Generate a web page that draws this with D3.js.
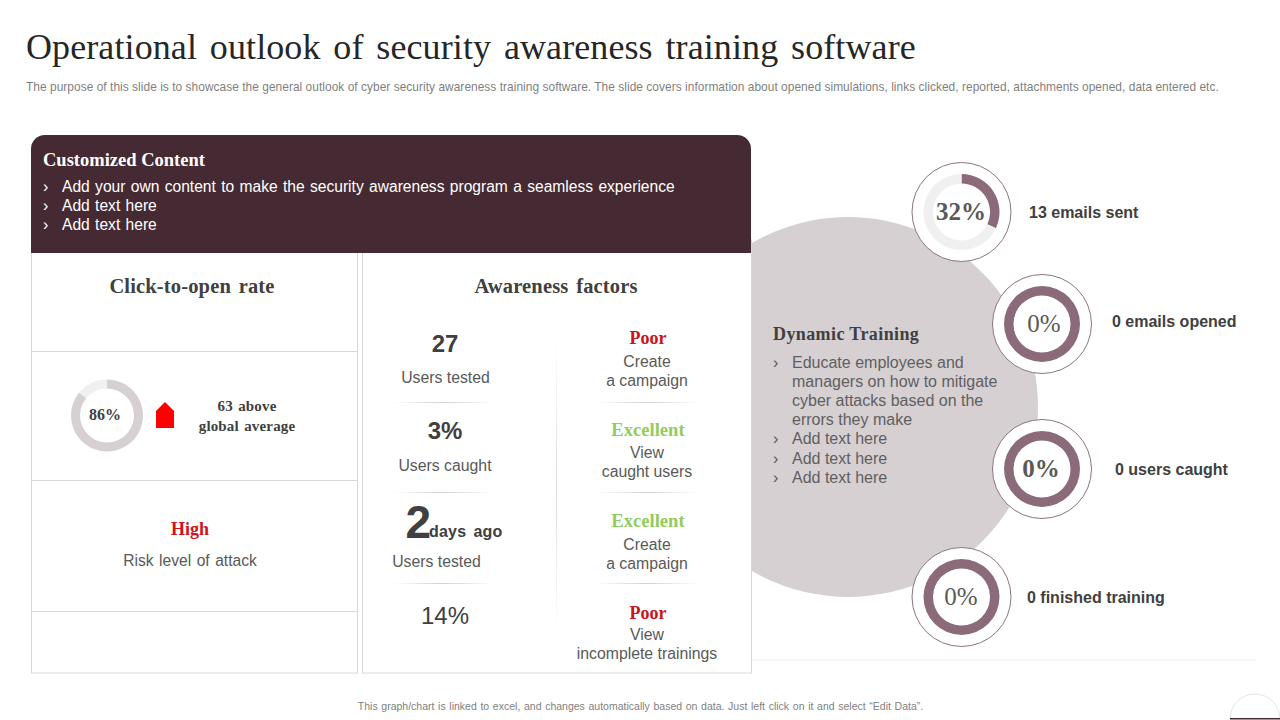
<!DOCTYPE html>
<html lang="en">
<head>
<meta charset="UTF-8">
<title>Operational outlook of security awareness training software</title>
<script src="https://cdnjs.cloudflare.com/ajax/libs/d3/7.8.5/d3.min.js"></script>
<style>
html, body { margin: 0; padding: 0; background: #fff; overflow: hidden; }
svg { display: block; }
text { font-family: "Liberation Sans", Arial, sans-serif; }
.serif { font-family: "Liberation Serif", "Times New Roman", serif; }
</style>
</head>
<body>
<script>
// values
var ringLabels = ["32%", "0%", "0%", "0%"];
var ringFilled = [32, 100, 100, 100];
var ringCaptions = ["13 emails sent", "0 emails opened", "0 users caught", "0 finished training"];

var clickRate = 86;
var clickLabel = "86%";

var headerLines = ["Add your own content to make the security awareness program a seamless experience", "Add text here", "Add text here"];
var trainingLines = ["Educate employees and", "managers on how to mitigate", "cyber attacks based on the", "errors they make", "Add text here", "Add text here", "Add text here"];
var trainingBullets = [0, 4, 5, 6];

var factorRatings = ["Poor", "Excellent", "Excellent", "Poor"];
var factorLines = [["Create", "a campaign"], ["View", "caught users"], ["Create", "a campaign"], ["View", "incomplete trainings"]];

var width = 1280, height = 720;
var svg = d3.select("body").append("svg").attr("width", width).attr("height", height);

var dark = "#404040", grey = "#595959", wine = "#452a33", mauve = "#8b6b7a", pale = "#d6d0d3", track = "#f0f0f0", edge = "#d9d9d9";
var ratingColor = { Poor: "#c9141b", Excellent: "#92cc5c" };

function label(x, y, str, size, opts) {
  opts = opts || {};
  return svg.append("text")
    .attr("x", x).attr("y", y)
    .attr("class", opts.serif ? "serif" : null)
    .attr("text-anchor", opts.anchor || "middle")
    .attr("font-size", size)
    .attr("font-weight", opts.bold ? "bold" : "normal")
    .attr("fill", opts.fill || grey)
    .attr("word-spacing", opts.ws || 0)
    .attr("letter-spacing", opts.ls || 0)
    .text(str);
}

function hline(x1, x2, y, color) {
  svg.append("line").attr("x1", x1).attr("x2", x2).attr("y1", y).attr("y2", y)
    .attr("stroke", color || edge).attr("stroke-width", 1);
}

// title
label(26, 59, "Operational outlook of security awareness training software", 36, { anchor: "start", serif: true, fill: "#262626", ws: 3.7, ls: 0.1 });
label(26, 91, "The purpose of this slide is to showcase the general outlook of cyber security awareness training software. The slide covers information about opened simulations, links clicked, reported, attachments opened, data entered etc.", 11.9, { anchor: "start", fill: "#7f7f7f", ls: 0.05 });

// big circle behind the panels
svg.append("circle").attr("cx", 848).attr("cy", 407).attr("r", 190).attr("fill", pale);
hline(751, 1256, 660, "#efefef");

// panels
svg.append("rect").attr("x", 31.5).attr("y", 240).attr("width", 326).attr("height", 433).attr("fill", "#fff").attr("stroke", edge);
svg.append("rect").attr("x", 362.5).attr("y", 240).attr("width", 389).attr("height", 433).attr("fill", "#fff").attr("stroke", edge);
[351.5, 480.5, 611.5].forEach(function (y) { hline(32, 357, y); });

// header box, rounded on top only
var hp = d3.path();
hp.moveTo(31, 253);
hp.lineTo(31, 149);
hp.arcTo(31, 135, 45, 135, 14);
hp.lineTo(737, 135);
hp.arcTo(751, 135, 751, 149, 14);
hp.lineTo(751, 253);
hp.closePath();
svg.append("path").attr("d", hp.toString()).attr("fill", wine);

label(43, 165.5, "Customized Content", 18.5, { anchor: "start", serif: true, bold: true, fill: "#fff" });
headerLines.forEach(function (t, i) {
  var y = 192 + i * 19;
  label(43, y, "\u203A", 16, { anchor: "start", fill: "#fff" });
  label(62, y, t, 15.6, { anchor: "start", fill: "#fff", ws: 1 });
});

// left panel
label(192, 293, "Click-to-open rate", 20.5, { serif: true, bold: true, fill: dark, ws: 2.5, ls: 0.15 });

var arc = d3.arc();
var pie = d3.pie().sort(null).value(function (d) { return d; });

function donut(cx, cy, r0, r1, value, fillColor) {
  var g = svg.append("g").attr("transform", "translate(" + cx + "," + cy + ")");
  g.selectAll("path").data(pie([value, 100 - value])).enter().append("path")
    .attr("d", function (d) { return arc({ innerRadius: r0, outerRadius: r1, startAngle: d.startAngle, endAngle: d.endAngle }); })
    .attr("fill", function (d, i) { return i === 0 ? fillColor : track; });
}

donut(107, 415.5, 27, 36, clickRate, pale);
label(105, 420, clickLabel, 16, { serif: true, bold: true, fill: dark });

svg.append("polygon").attr("points", "156,428 156,411 165,402 174,411 174,428").attr("fill", "#ff0000");
label(247, 411, "63 above", 15, { serif: true, bold: true, fill: dark, ws: 1.5, ls: 0.15 });
label(247, 431, "global average", 15, { serif: true, bold: true, fill: dark, ws: 1.5, ls: 0.15 });

label(190, 535, "High", 18, { serif: true, bold: true, fill: "#d0121b" });
label(190, 566, "Risk level of attack", 15.6, { fill: grey, ws: 1.2 });

// right panel
label(556, 293, "Awareness factors", 20.5, { serif: true, bold: true, fill: dark, ws: 2.5, ls: 0.15 });

var fade = svg.append("defs").append("linearGradient").attr("id", "fade");
fade.append("stop").attr("offset", "0").attr("stop-color", "#d0d0d0").attr("stop-opacity", 0);
fade.append("stop").attr("offset", "0.5").attr("stop-color", "#d0d0d0");
fade.append("stop").attr("offset", "1").attr("stop-color", "#d0d0d0").attr("stop-opacity", 0);

[[393, 493, 402], [393, 493, 492], [393, 493, 583], [597, 697, 402], [597, 697, 492], [597, 697, 583]].forEach(function (d) {
  svg.append("rect").attr("x", d[0]).attr("y", d[2]).attr("width", d[1] - d[0]).attr("height", 1).attr("fill", "url(#fade)");
});
var vfade = svg.select("defs").append("linearGradient").attr("id", "vfade").attr("x1", 0).attr("x2", 0).attr("y1", 0).attr("y2", 1);
vfade.append("stop").attr("offset", "0").attr("stop-color", "#dcdcdc").attr("stop-opacity", 0);
vfade.append("stop").attr("offset", "0.5").attr("stop-color", "#dcdcdc");
vfade.append("stop").attr("offset", "1").attr("stop-color", "#dcdcdc").attr("stop-opacity", 0);
svg.append("rect").attr("x", 556).attr("y", 340).attr("width", 1).attr("height", 295).attr("fill", "url(#vfade)");

label(445, 352, "27", 24, { bold: true, fill: dark });
label(445.5, 383, "Users tested", 15.8, { fill: grey });
label(445, 439, "3%", 24, { bold: true, fill: dark });
label(445, 471, "Users caught", 15.8, { fill: grey });
label(405.5, 538, "2", 46, { anchor: "start", bold: true, fill: dark, ls: -1 });
label(429, 537, "days ago", 16, { anchor: "start", bold: true, fill: dark, ws: 2.5, ls: 0.2 });
label(436.5, 567, "Users tested", 15.8, { fill: grey });
label(445, 624, "14%", 24, { fill: dark });

var ratingY = [344, 436, 527, 619];
var factorGap = [23, 22, 23, 21];
factorRatings.forEach(function (r, i) {
  label(648, ratingY[i], r, r === "Excellent" ? 18.6 : 18, { serif: true, bold: true, fill: ratingColor[r] });
  factorLines[i].forEach(function (t, j) {
    label(647, ratingY[i] + factorGap[i] + j * 19, t, 15.8, { fill: grey });
  });
});

// dynamic training
label(773, 340, "Dynamic Training", 18, { anchor: "start", serif: true, bold: true, fill: dark, ls: 0.4 });
trainingLines.forEach(function (t, i) {
  var y = 368 + i * 19.1;
  if (trainingBullets.indexOf(i) >= 0) label(773, y, "\u203A", 16, { anchor: "start", fill: grey });
  label(792, y, t, 16, { anchor: "start", fill: "#5f5f5f" });
});

// kpi rings
var ringX = [961.5, 1042, 1042, 961.5], ringY = [212, 324, 469, 597];
var captionX = [1029, 1112, 1115, 1027];
var captionY = [218, 327, 475, 603];
var ringTextX = [961, 1044, 1041, 961];
ringLabels.forEach(function (t, i) {
  svg.append("circle").attr("cx", ringX[i]).attr("cy", ringY[i]).attr("r", 49.5).attr("fill", "#fff").attr("stroke", "#8a7480").attr("stroke-width", 1);
  donut(ringX[i], ringY[i], 28.5, 38, ringFilled[i], mauve);
  label(ringTextX[i], ringY[i] + 8, t, 25, { serif: true, bold: i === 0 || i === 2, fill: grey });
  label(captionX[i], captionY[i], ringCaptions[i], 16, { anchor: "start", bold: true, fill: dark });
});

// footer
label(640.5, 710, "This graph/chart is linked to excel, and changes automatically based on data. Just left click on it and select \u201CEdit Data\u201D.", 10.5, { fill: "#7f7f7f", ws: 0.75 });

// page-number tab, bottom right
var tab = d3.path();
tab.arc(1255, 719, 25, Math.PI, 0);
svg.append("path").attr("d", tab.toString()).attr("fill", "#fff").attr("stroke", "#e4e4e4");
svg.append("rect").attr("x", 1230).attr("y", 718).attr("width", 50).attr("height", 1.5).attr("fill", wine);
</script>
</body>
</html>
